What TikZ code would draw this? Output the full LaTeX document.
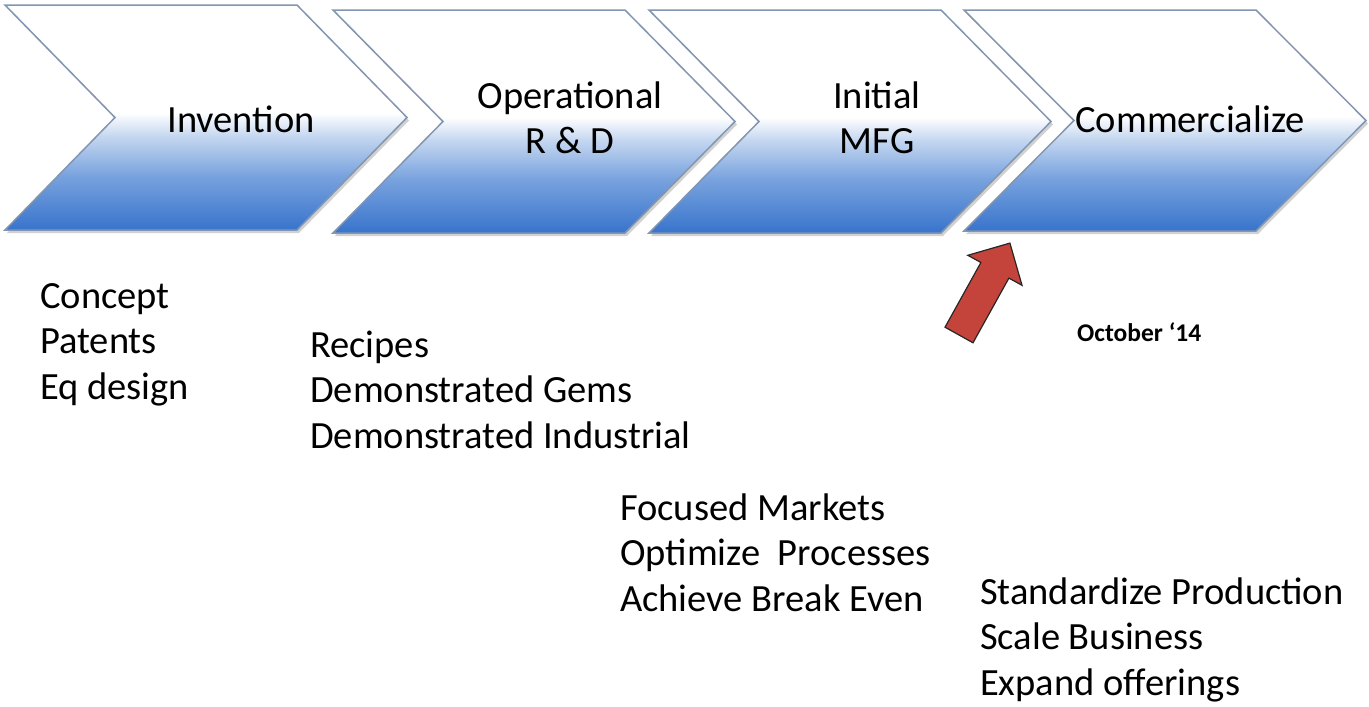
\documentclass[tikz,border=0pt]{standalone}
\usepackage{fontspec}
\setmainfont{Carlito}
\definecolor{cblue}{RGB}{56,116,204}
\definecolor{cmid}{RGB}{120,162,222}
\definecolor{clight}{RGB}{198,216,240}
\definecolor{chevline}{RGB}{130,150,178}
\definecolor{arrowred}{RGB}{196,68,60}
\pgfdeclareverticalshading{chevshade}{100bp}{color(0bp)=(cblue); color(25bp)=(cblue); color(37bp)=(cmid); color(46bp)=(clight); color(51bp)=(white); color(100bp)=(white)}
\newcommand{\chevpath}[3]{(#1,#2) -- (#1+292,#2) -- (#1+402,{(#2+#3)/2}) -- (#1+292,#3) -- (#1,#3) -- (#1+110,{(#2+#3)/2}) -- cycle}
\tikzset{
  chev/.style={draw=chevline, line width=1.5pt, shading=chevshade, line join=miter},
  chevshadow/.style={fill=black!18, draw=none, shift={(2,3)}},
  steplabel/.style={font=\fontsize{38.5}{45}\selectfont, align=center, anchor=base, inner sep=0pt},
  listtext/.style={font=\fontsize{38.5}{45.5}\selectfont, align=left, anchor=base west, inner sep=0pt},
  datetext/.style={font=\bfseries\fontsize{25.5}{30}\selectfont, anchor=base west, inner sep=0pt},
  bigarrow/.style={fill=arrowred, draw=black!85, line width=1.2pt, line join=miter}
}
\begin{document}
\begin{tikzpicture}[x=1pt,y=-1pt]
\useasboundingbox[fill=white] (0,0) rectangle (1369,707);
% chevrons
\fill[chevshadow] \chevpath{5}{5}{230};
\path[chev] \chevpath{5}{5}{230};
\fill[chevshadow] \chevpath{333}{10}{233};
\path[chev] \chevpath{333}{10}{233};
\fill[chevshadow] \chevpath{649}{10}{233};
\path[chev] \chevpath{649}{10}{233};
\fill[chevshadow] \chevpath{964}{10}{231};
\path[chev] \chevpath{964}{10}{231};
% labels (base anchor = baseline of the last line)
\node[steplabel] (invention) at (241,132) {Invention};
\node[steplabel] (operational) at (570,153) {Operational\\R \& D};
\node[steplabel] (initial) at (877,153) {Initial\\MFG};
\node[steplabel] (commercialize) at (1190,132) {Commercialize};
% lists
\node[listtext] (list1) at (40,399) {Concept\\Patents\\Eq design};
\node[listtext] (list2) at (310,448) {Recipes\\Demonstrated Gems\\Demonstrated Industrial};
\node[listtext] (list3) at (620,611) {Focused Markets\\Optimize\ \ Processes\\Achieve Break Even};
\node[listtext] (list4) at (980,695) {Standardize Production\\Scale Business\\Expand offerings};
\node[datetext] (date) at (1077,341) {October ‘14};
% red arrow
\coordinate (tailL) at (945,327.2);
\coordinate (tailR) at (973,342.8);
\coordinate (shaftL) at (980.9,262.5);
\coordinate (shaftR) at (1008.9,278.1);
\coordinate (headL) at (967.8,255.3);
\coordinate (headR) at (1022,285.3);
\coordinate (tip) at (1009.9,243.1);
\draw[bigarrow] (tailL) -- (shaftL) -- (headL) -- (tip) -- (headR) -- (shaftR) -- (tailR) -- cycle;
\end{tikzpicture}
\end{document}
